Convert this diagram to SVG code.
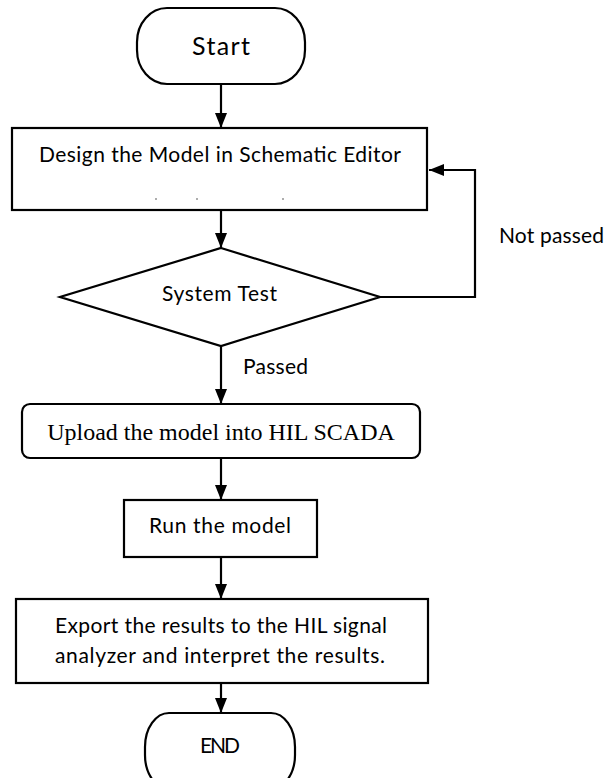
<svg xmlns="http://www.w3.org/2000/svg" width="608" height="778" viewBox="0 0 608 778">
  <style>
    .shape { fill: #ffffff; stroke: #000000; stroke-width: 2.2; }
    .conn { fill: none; stroke: #000000; stroke-width: 2.2; }
    .t { font-family: Lato, "Open Sans", "Liberation Sans", sans-serif; font-size: 21px; fill: #000000; }
    .serif { font-family: "Liberation Serif", "Times New Roman", serif; font-size: 24px; fill: #000000; }
    .mid { text-anchor: middle; }
  </style>
  <defs>
    <marker id="arrow" markerUnits="userSpaceOnUse" markerWidth="15" markerHeight="12" refX="15" refY="6" orient="auto">
      <path d="M0,0 L15,6 L0,12 Z" fill="#000000"/>
    </marker>
  </defs>
  <rect width="608" height="778" fill="#ffffff"/>

  <g id="connectors">
    <line class="conn" x1="221" y1="84" x2="221" y2="128" marker-end="url(#arrow)"/>
    <line class="conn" x1="221" y1="210" x2="221" y2="248" marker-end="url(#arrow)"/>
    <polyline class="conn" points="380,297 475,297 475,170 429,170" marker-end="url(#arrow)"/>
    <line class="conn" x1="221" y1="346" x2="221" y2="404" marker-end="url(#arrow)"/>
    <line class="conn" x1="221" y1="458" x2="221" y2="500" marker-end="url(#arrow)"/>
    <line class="conn" x1="221" y1="557" x2="221" y2="599" marker-end="url(#arrow)"/>
    <line class="conn" x1="221" y1="683" x2="221" y2="713" marker-end="url(#arrow)"/>
    <text class="t" x="499" y="243" textLength="105">Not passed</text>
    <text class="t" x="243" y="374" textLength="65">Passed</text>
  </g>

  <g id="start">
    <rect class="shape" x="137" y="8" width="168" height="76" rx="30" ry="34"/>
    <text class="t mid" x="221" y="55" style="font-size:25px" textLength="58">Start</text>
  </g>

  <g id="design">
    <rect class="shape" x="12" y="128" width="415" height="82"/>
    <text class="t mid" x="220" y="162" textLength="362">Design the Model in Schematic Editor</text>
    <circle cx="156" cy="199" r="0.8" fill="#444"/>
    <circle cx="197" cy="199" r="0.8" fill="#444"/>
    <circle cx="283" cy="199" r="0.8" fill="#444"/>
  </g>

  <g id="system-test">
    <polygon class="shape" points="221,248 380,297 221,346 60,297"/>
    <text class="t" x="162" y="301" textLength="115">System Test</text>
  </g>

  <g id="upload">
    <rect class="shape" x="22" y="404" width="398" height="54" rx="8" ry="8"/>
    <text class="serif mid" x="221" y="440">Upload the model into HIL SCADA</text>
  </g>

  <g id="run">
    <rect class="shape" x="124" y="500" width="193" height="57"/>
    <text class="t mid" x="220" y="533" textLength="142">Run the model</text>
  </g>

  <g id="export">
    <rect class="shape" x="16" y="599" width="412" height="84"/>
    <text class="t mid" x="221" y="633" textLength="332">Export the results to the HIL signal</text>
    <text class="t mid" x="220" y="663" textLength="330">analyzer and interpret the results.</text>
  </g>

  <g id="end">
    <rect class="shape" x="145" y="713" width="150" height="76" rx="24" ry="34"/>
    <text class="t mid" x="220" y="753" textLength="40">END</text>
  </g>
</svg>
